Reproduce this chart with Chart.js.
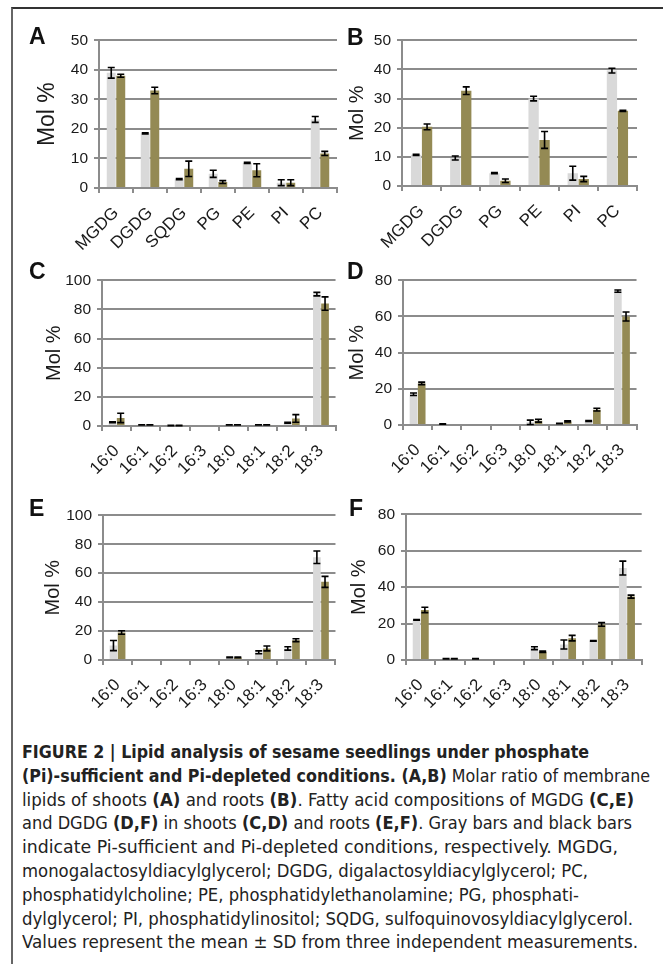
<!DOCTYPE html>
<html>
<head>
<meta charset="utf-8">
<script src="https://cdn.jsdelivr.net/npm/chart.js@4/dist/chart.umd.min.js"></script>
<style>
  body { margin: 0; width: 663px; height: 964px; background: #fff; position: relative; overflow: hidden; font-family: "Liberation Sans", Arial, sans-serif; }
  #frame { position: absolute; left: 11px; top: 7px; right: -5px; bottom: -5px; border-top: 2px solid #333; border-left: 2px solid #666; }
  canvas { position: absolute; }
  .letter { position: absolute; font-weight: bold; font-size: 23px; line-height: 23px; color: #111; }
  #caption { position: absolute; left: 22px; top: 741px; font-family: "DejaVu Sans Condensed", "Liberation Sans Narrow", sans-serif; font-stretch: condensed; font-size: 17.5px; line-height: 23.8px; color: #222; }
  #caption .ln { display: block; width: max-content; white-space: nowrap; transform-origin: 0 50%; }
</style>
</head>
<body>
<div id="frame"></div>
<div id="charts"></div>
<div id="caption">
  <span class="ln"><b>FIGURE 2 | Lipid analysis of sesame seedlings under phosphate</b></span>
  <span class="ln"><b>(Pi)-sufficient and Pi-depleted conditions. (A,B)</b> Molar ratio of membrane</span>
  <span class="ln">lipids of shoots <b>(A)</b> and roots <b>(B)</b>. Fatty acid compositions of MGDG <b>(C,E)</b></span>
  <span class="ln">and DGDG <b>(D,F)</b> in shoots <b>(C,D)</b> and roots <b>(E,F)</b>. Gray bars and black bars</span>
  <span class="ln">indicate Pi-sufficient and Pi-depleted conditions, respectively. MGDG,</span>
  <span class="ln">monogalactosyldiacylglycerol; DGDG, digalactosyldiacylglycerol; PC,</span>
  <span class="ln">phosphatidylcholine; PE, phosphatidylethanolamine; PG, phosphati-</span>
  <span class="ln">dylglycerol; PI, phosphatidylinositol; SQDG, sulfoquinovosyldiacylglycerol.</span>
  <span class="ln">Values represent the mean ± SD from three independent measurements.</span>
</div>
<script>
// categories
const lipidsA = ["MGDG", "DGDG", "SQDG", "PG", "PE", "PI", "PC"];
const lipidsB = ["MGDG", "DGDG", "PG", "PE", "PI", "PC"];
const fattyAcids = ["16:0", "16:1", "16:2", "16:3", "18:0", "18:1", "18:2", "18:3"];

// A: membrane lipids, shoots (mean / SD)
const aSuff = [39, 18.5, 3, 4.8, 8.5, 1.8, 23.2];
const aSuffSD = [1.8, 0.2, 0.2, 1.2, 0.2, 1.0, 1.0];
const aDep = [38, 33, 6.5, 2, 6, 1.8, 11.7];
const aDepSD = [0.5, 1.1, 2.6, 0.5, 2.2, 1.0, 0.7];

// B: membrane lipids, roots
const bSuff = [10.7, 9.6, 4.4, 30, 4.4, 39.6];
const bSuffSD = [0.2, 0.7, 0.2, 0.8, 2.4, 0.8];
const bDep = [20.3, 32.7, 1.8, 15.8, 2.4, 25.8];
const bDepSD = [1.0, 1.3, 0.6, 2.9, 0.9, 0.2];

// C: MGDG fatty acids, shoots
const cSuff = [2.5, 0.8, 0.3, 0, 0.8, 0.8, 2.2, 90.5];
const cSuffSD = [0.3, 0.1, 0.1, 0, 0.1, 0.1, 0.3, 1.2];
const cDep = [5.5, 0.8, 0.3, 0, 0.8, 0.8, 5.2, 84];
const cDepSD = [3.2, 0.1, 0.1, 0, 0.1, 0.1, 2.6, 4.6];

// D: DGDG fatty acids, shoots
const dSuff = [17, 0.5, 0, 0, 1.5, 0.8, 2.2, 74];
const dSuffSD = [0.7, 0.1, 0, 0, 1.2, 0.1, 0.2, 0.6];
const dDep = [23, 0, 0, 0, 2.4, 2, 8.5, 60];
const dDepSD = [0.7, 0, 0, 0, 0.8, 0.3, 0.8, 2.5];

// E: MGDG fatty acids, roots
const eSuff = [10, 0, 0, 0, 1.8, 5.3, 8, 71];
const eSuffSD = [3.5, 0, 0, 0, 0.2, 1.0, 1.2, 4.3];
const eDep = [19, 0, 0, 0, 1.8, 8, 13.7, 54];
const eDepSD = [1.2, 0, 0, 0, 0.2, 1.7, 1.0, 3.8];

// F: DGDG fatty acids, roots
const fSuff = [22, 0.7, 0.7, 0, 6.5, 8.5, 10.5, 50.5];
const fSuffSD = [0.2, 0.1, 0.1, 0, 0.8, 2.5, 0.2, 3.8];
const fDep = [27.5, 0.7, 0, 0, 4.5, 12, 19.5, 34.8];
const fDepSD = [1.5, 0.1, 0, 0, 0.4, 1.5, 1.0, 0.8];

// y axis ticks per panel
const yMax = [50, 50, 100, 80, 100, 80];
const yStep = [10, 10, 20, 20, 20, 20];

// caption line right edges in the figure
const captionEnds = [589, 650, 634, 632, 618, 588, 579, 633, 638];

const GRAY = "#d9d9d9";
const OLIVE = "#948a54";
const GRID = "#8c8c8c";
const TEXT = "#1a1a1a";
const Y_W = 80, PAD_T = 14, PAD_R = 10, X_H = 80;

Chart.defaults.font.family = "'Liberation Sans', Arial, sans-serif";

// plot area [left, top, right, bottom] and label placement per panel
const panels = [
  { letter: "A", labels: lipidsA, suff: aSuff, suffSD: aSuffSD, dep: aDep, depSD: aDepSD, box: [99, 38.7, 337, 187.7], titleX: 48, titleSize: 23, at: [29, 25] },
  { letter: "B", labels: lipidsB, suff: bSuff, suffSD: bSuffSD, dep: bDep, depSD: bDepSD, box: [401.7, 38.7, 636.7, 185.7], titleX: 357, titleSize: 20, at: [347, 26] },
  { letter: "C", labels: fattyAcids, suff: cSuff, suffSD: cSuffSD, dep: cDep, depSD: cDepSD, box: [101.7, 279, 336, 425.7], titleX: 54, titleSize: 20, at: [29, 260] },
  { letter: "D", labels: fattyAcids, suff: dSuff, suffSD: dSuffSD, dep: dDep, depSD: dDepSD, box: [402.7, 279.3, 636.7, 425], titleX: 357.5, titleSize: 20, at: [347, 260] },
  { letter: "E", labels: fattyAcids, suff: eSuff, suffSD: eSuffSD, dep: eDep, depSD: eDepSD, box: [103.3, 514, 336, 660], titleX: 53.5, titleSize: 20, at: [29, 497] },
  { letter: "F", labels: fattyAcids, suff: fSuff, suffSD: fSuffSD, dep: fDep, depSD: fDepSD, box: [406, 512.7, 641.7, 660], titleX: 359.5, titleSize: 20, at: [349, 497] },
];

// draws mean ± SD whiskers on top of the bars
const errorBars = {
  id: "errorBars",
  afterDatasetsDraw(chart) {
    const ctx = chart.ctx;
    const y = chart.scales.y;
    ctx.save();
    ctx.strokeStyle = "#000";
    ctx.lineWidth = 1.6;
    chart.data.datasets.forEach((ds, i) => {
      const meta = chart.getDatasetMeta(i);
      meta.data.forEach((bar, j) => {
        const sd = ds.sd[j];
        if (!sd) return;
        const v = ds.data[j];
        const lo = y.getPixelForValue(Math.max(v - sd, 0));
        const hi = y.getPixelForValue(v + sd);
        const cap = 3.5;
        ctx.beginPath();
        ctx.moveTo(bar.x, lo); ctx.lineTo(bar.x, hi);
        ctx.moveTo(bar.x - cap, lo); ctx.lineTo(bar.x + cap, lo);
        ctx.moveTo(bar.x - cap, hi); ctx.lineTo(bar.x + cap, hi);
        ctx.stroke();
      });
    });
    ctx.restore();
  },
};

function makePanel(p, idx) {
  const [l, t, r, b] = p.box;
  const left = l - Y_W, top = t - PAD_T;
  const w = Math.round(r - left + PAD_R), h = Math.round(b - top + X_H);
  const canvas = document.createElement("canvas");
  canvas.width = w; canvas.height = h;
  canvas.style.left = left + "px"; canvas.style.top = top + "px";
  canvas.style.width = w + "px"; canvas.style.height = h + "px";
  document.getElementById("charts").appendChild(canvas);

  const letter = document.createElement("div");
  letter.className = "letter";
  letter.textContent = p.letter;
  letter.style.left = p.at[0] + "px"; letter.style.top = p.at[1] + "px";
  document.body.appendChild(letter);

  const lh = p.titleSize * 1.2;
  const titlePad = p.titleX - left - lh / 2;

  new Chart(canvas.getContext("2d"), {
    type: "bar",
    data: {
      labels: p.labels,
      datasets: [
        { label: "Pi-sufficient", data: p.suff, sd: p.suffSD, backgroundColor: GRAY },
        { label: "Pi-depleted", data: p.dep, sd: p.depSD, backgroundColor: OLIVE },
      ],
    },
    options: {
      responsive: false,
      animation: false,
      devicePixelRatio: 1,
      categoryPercentage: 0.56,
      barPercentage: 0.94,
      layout: { padding: { top: PAD_T, right: PAD_R, left: 0, bottom: 0 } },
      plugins: { legend: { display: false }, tooltip: { enabled: false } },
      scales: {
        x: {
          grid: { drawOnChartArea: false, drawTicks: true, tickLength: 5, color: GRID, lineWidth: 2, offset: true },
          border: { display: true, color: GRID, width: 2 },
          ticks: { autoSkip: false, minRotation: 45, maxRotation: 45, padding: 10, color: TEXT, font: { size: 17 } },
          afterFit: (s) => { s.height = X_H; },
        },
        y: {
          min: 0,
          max: yMax[idx],
          ticks: { stepSize: yStep[idx], padding: 6, color: TEXT, font: { size: 15.5 } },
          grid: { color: GRID, lineWidth: 2, tickLength: 5 },
          border: { display: true, color: GRID, width: 2 },
          title: { display: true, text: "Mol %", color: TEXT, font: { size: p.titleSize }, padding: { top: titlePad, bottom: 0 } },
          afterFit: (s) => { s.width = Y_W; },
        },
      },
    },
    plugins: [errorBars],
  });
}

panels.forEach(makePanel);

// squeeze each caption line to the width it has in the figure
document.querySelectorAll("#caption .ln").forEach((el, i) => {
  const natural = el.getBoundingClientRect().width;
  el.style.transform = "scaleX(" + ((captionEnds[i] - 22) / natural).toFixed(4) + ")";
});
</script>
</body>
</html>
